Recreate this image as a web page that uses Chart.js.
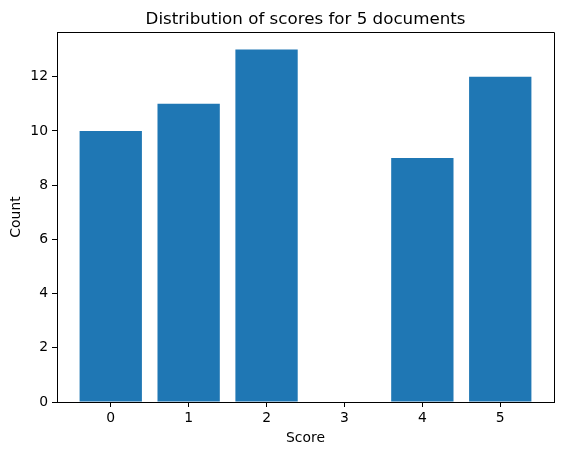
<!DOCTYPE html>
<html>
<head>
<meta charset="utf-8">
<script src="https://cdn.jsdelivr.net/npm/chart.js@4"></script>
<style>
  body { margin: 0; background: #fff; }
  canvas { display: block; }
</style>
</head>
<body>
<canvas id="scores" width="562" height="455"></canvas>
<script>
const scores = [0, 1, 2, 3, 4, 5];
const counts = [10, 11, 13, 0, 9, 12];
const yTicks = [0, 2, 4, 6, 8, 10, 12];
const chartTitle = 'Distribution of scores for 5 documents';

const font = 'DejaVu Sans';

// frame on top/right + title centred over the axes (like matplotlib)
const frame = {
  id: 'frame',
  afterDraw(chart) {
    const { ctx, chartArea: a } = chart;
    ctx.save();
    ctx.strokeStyle = '#000';
    ctx.lineWidth = 1;
    ctx.beginPath();
    ctx.moveTo(a.left, a.top + 0.5);
    ctx.lineTo(a.right + 0.5, a.top + 0.5);
    ctx.lineTo(a.right + 0.5, a.bottom);
    ctx.stroke();
    ctx.fillStyle = '#000';
    ctx.font = '16.7px "' + font + '"';
    ctx.textAlign = 'center';
    ctx.textBaseline = 'alphabetic';
    ctx.fillText(chartTitle, (a.left + a.right) / 2, a.top - 8);
    ctx.restore();
  }
};

new Chart(document.getElementById('scores'), {
  type: 'bar',
  data: {
    datasets: [{
      data: scores.map((s, i) => ({ x: s, y: counts[i] })),
      backgroundColor: '#1f77b4',
      borderColor: '#1f77b4',
      borderWidth: 0,
      inflateAmount: 0,
      categoryPercentage: 1,
      barPercentage: 0.8
    }]
  },
  options: {
    responsive: false,
    animation: false,
    devicePixelRatio: 1,
    layout: { padding: { top: 32, right: 8, left: 0, bottom: 0 } },
    plugins: { legend: { display: false }, tooltip: { enabled: false } },
    scales: {
      x: {
        type: 'linear',
        offset: false,
        min: -0.69,
        max: 5.69,
        afterBuildTicks: s => { s.ticks = scores.map(v => ({ value: v })); },
        afterFit: s => { s.height = 53; },
        grid: { offset: false, drawOnChartArea: false, drawTicks: true, tickLength: 5, color: '#000' },
        border: { color: '#000' },
        ticks: { color: '#000', padding: 3, font: { family: font, size: 13.9 } },
        title: { display: true, text: 'Score', color: '#000', padding: { top: 0, bottom: 8 }, font: { family: font, size: 13.9 } }
      },
      y: {
        min: 0,
        max: 13.65,
        afterBuildTicks: s => { s.ticks = yTicks.map(v => ({ value: v })); },
        afterFit: s => { s.width = 57; },
        grid: { drawOnChartArea: false, drawTicks: true, tickLength: 5, color: '#000' },
        border: { color: '#000' },
        ticks: { color: '#000', padding: 4, font: { family: font, size: 13.9 } },
        title: { display: true, text: 'Count', color: '#000', padding: { top: 8, bottom: 0 }, font: { family: font, size: 13.9 } }
      }
    }
  },
  plugins: [frame]
});
</script>
</body>
</html>
